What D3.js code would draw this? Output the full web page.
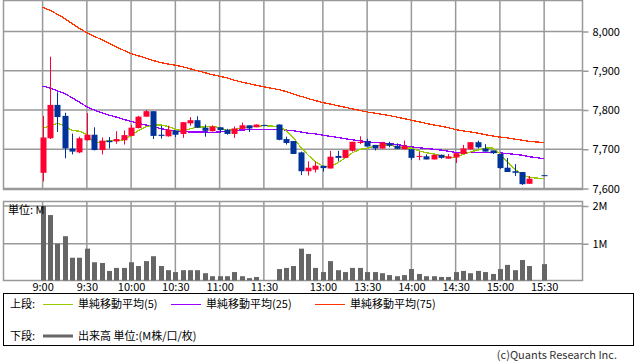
<!DOCTYPE html>
<html>
<head>
<meta charset="utf-8">
<script src="https://cdn.jsdelivr.net/npm/d3@7"></script>
<style>
  body { margin: 0; background: #fff; }
  svg { display: block; }
  text { font-family: "Noto Sans CJK JP", "Liberation Sans", sans-serif; font-size: 11px; }
</style>
</head>
<body>
<svg id="chart" width="638" height="362"></svg>
<script>
// 5-minute bars, one slot per entry ("" = lunch gap slot)
const times = [
  "9:00","9:05","9:10","9:15","9:20","9:25","9:30","9:35","9:40","9:45","9:50","9:55",
  "10:00","10:05","10:10","10:15","10:20","10:25","10:30","10:35","10:40","10:45","10:50","10:55",
  "11:00","11:05","11:10","11:15","11:20","11:25","11:30","",
  "12:30","12:35","12:40","12:45","12:50","12:55",
  "13:00","13:05","13:10","13:15","13:20","13:25","13:30","13:35","13:40","13:45","13:50","13:55",
  "14:00","14:05","14:10","14:15","14:20","14:25","14:30","14:35","14:40","14:45","14:50","14:55",
  "15:00","15:05","15:10","15:15","15:20","15:25","15:30"
];

const open = [7640,7728,7813,7785,7702,7692,7723,7737,7698,7722, 7720,7723,7734,7754,7783,7797,7737,7733,7748,7739,
  7766,7774,7755,7746,7756,7750,7739,7752,7761,7756, 7762,null,7763,7726,7721,7692,7644,7648,7658,7651,
  7683,7678,7696,7716,7720,7711,7702,7715,7709,7700, 7700,7681,7682,7674,7686,7676,7679,7688,7700,7718,
  7702,7697,7688,7653,7644,7642,7612,null,7634];
const high = [7785,7936,7845,7793,7740,7732,7792,7756,7730,7731, 7746,7748,7762,7785,7800,7797,7760,7760,7748,7769,
  7782,7784,7763,7760,7756,7752,7758,7768,7761,7763, 7762,null,7763,7732,7721,7694,7669,7669,7658,7696,
  7696,7698,7719,7733,7727,7711,7719,7719,7715,7722, 7700,7694,7687,7686,7686,7688,7690,7711,7718,7722,
  7713,7697,7688,7678,7662,7642,7632,null,7634];
const low = [7618,7726,7744,7677,7687,7690,7722,7697,7687,7702, 7714,7712,7733,7753,7783,7726,7727,7732,7731,7729,
  7760,7754,7732,7745,7742,7737,7729,7751,7744,7756, 7759,null,7723,7712,7688,7634,7633,7641,7643,7651,
  7669,7677,7694,7713,7707,7697,7701,7705,7701,7700, 7673,7672,7674,7674,7676,7676,7665,7688,7699,7702,
  7694,7688,7650,7642,7632,7609,7612,null,7633];
const close = [7730,7813,7782,7702,7694,7728,7737,7698,7722,7718, 7726,7736,7755,7783,7797,7734,7734,7750,7737,7769,
  7774,7755,7747,7758,7749,7739,7753,7761,7753,7763, 7760,null,7724,7716,7688,7644,7653,7658,7652,7681,
  7678,7698,7719,7719,7707,7702,7717,7709,7701,7709, 7678,7683,7674,7686,7678,7682,7690,7702,7718,7705,
  7694,7690,7652,7642,7640,7611,7625,null,7633];

// volume in millions
const volume = [2.0,1.76,1.0,1.2,0.63,0.63,0.87,0.51,0.49,0.28, 0.36,0.36,0.51,0.41,0.54,0.67,0.41,0.30,0.25,0.30,
  0.30,0.30,0.22,0.14,0.14,0.14,0.25,0.14,0.09,0.12, 0.02,null,0.33,0.36,0.41,0.87,0.73,0.36,0.25,0.54,
  0.30,0.25,0.36,0.36,0.25,0.25,0.22,0.17,0.14,0.17, 0.33,0.20,0.14,0.14,0.12,0.12,0.25,0.28,0.22,0.28,
  0.25,0.20,0.33,0.44,0.30,0.57,0.41,null,0.46];

const ma5 = [7754,7759,7766,7760,7748,7746,7737,7714,7720,7721, 7722,7724,7735,7748,7757,7761,7762,7758,7751,7747,
  7752,7757,7757,7759,7755,7748,7750,7754,7757,7758, 7760,null,7758,7748,7730,7705,7685,7668,7657,7656,
  7665,7678,7691,7700,7702,7709,7711,7711,7706,7704, 7703,7696,7691,7688,7684,7679,7680,7687,7693,7698,
  7703,7703,7689,7668,7649,7636,7628,null,7625];
const ma25 = [7861,7856,7849,7842,7831,7820,7808,7800,7793,7787, 7782,7776,7771,7766,7762,7757,7753,7749,7746,7745,
  7744,7744,7744,7743,7744,7746,7748,7749,7750,7750, 7750,null,7751,7749,7747,7744,7741,7739,7736,7733,
  7730,7727,7724,7722,7719,7717,7716,7715,7712,7709, 7706,7704,7702,7700,7698,7695,7692,7691,7691,7691,
  7691,7691,7691,7689,7687,7685,7681,null,7676];
const ma75 = [8062,8054,8044,8033,8020,8008,7997,7988,7979,7970, 7961,7952,7944,7938,7932,7926,7921,7917,7914,7910,
  7905,7900,7895,7890,7886,7882,7876,7871,7867,7863, 7859,null,7852,7847,7841,7835,7829,7824,7819,7815,
  7811,7807,7803,7799,7795,7792,7789,7786,7782,7778, 7774,7770,7766,7762,7759,7755,7750,7747,7744,7741,
  7737,7734,7731,7729,7726,7723,7720,null,7717];

const tickLabels = ["9:00","9:30","10:00","10:30","11:00","11:30","13:00","13:30","14:00","14:30","15:00","15:30"];
const priceTicks = [7600, 7700, 7800, 7900, 8000];
const volTicks = [1, 2];

const UP = "#ff0033", DOWN = "#003399", GRID = "#999";

const svg = d3.select("#chart");

const x = d3.scaleLinear().domain([-5.3, 73.2]).range([3.5, 582.5]);
const yP = d3.scaleLinear().domain([7600, 8000]).range([188.5, 31.5]);
const yV = d3.scaleLinear().domain([0, 2]).range([281.5, 206]);

const tickIdx = tickLabels.map(t => times.indexOf(t));
const idx = d3.range(times.length);

// clip paths
svg.append("clipPath").attr("id", "clipP").append("rect")
  .attr("x", 3.5).attr("y", 0.5).attr("width", 579).attr("height", 189);
svg.append("clipPath").attr("id", "clipV").append("rect")
  .attr("x", 3.5).attr("y", 201.5).attr("width", 579).attr("height", 79);

// grid
const grid = svg.append("g").attr("stroke", GRID).attr("stroke-width", 1.5);
grid.selectAll(".hp").data(priceTicks).join("line")
  .attr("x1", 3.5).attr("x2", 582.5).attr("y1", d => yP(d)).attr("y2", d => yP(d));
grid.selectAll(".hv").data(volTicks).join("line")
  .attr("x1", 3.5).attr("x2", 582.5).attr("y1", d => yV(d)).attr("y2", d => yV(d));
grid.selectAll(".vp").data(tickIdx).join("line")
  .attr("x1", d => x(d)).attr("x2", d => x(d)).attr("y1", 0.5).attr("y2", 189.5);
grid.selectAll(".vv").data(tickIdx).join("line")
  .attr("x1", d => x(d)).attr("x2", d => x(d)).attr("y1", 201.5).attr("y2", 280.5);

// panel borders
svg.append("rect").attr("x", 3.5).attr("y", 0.5).attr("width", 579).attr("height", 189)
  .attr("fill", "none").attr("stroke", GRID).attr("stroke-width", 1.5);
svg.append("rect").attr("x", 3.5).attr("y", 201.5).attr("width", 579).attr("height", 79)
  .attr("fill", "none").attr("stroke", GRID).attr("stroke-width", 1.5);

// moving averages
const plot = svg.append("g").attr("clip-path", "url(#clipP)");
function maLine(arr, color) {
  const pts = idx.filter(i => arr[i] != null);
  plot.append("path")
    .datum(pts)
    .attr("fill", "none")
    .attr("stroke", color)
    .attr("stroke-width", 1.3)
    .attr("shape-rendering", "crispEdges")
    .attr("d", d3.line().x(i => x(i)).y(i => yP(arr[i])));
}
maLine(ma75, "#ff3300");
maLine(ma25, "#9900ff");
maLine(ma5, "#99cc00");

// candles
const bars = idx.filter(i => open[i] != null);
const cw = 6;
const c = plot.selectAll(".candle").data(bars).join("g")
  .attr("fill", i => close[i] > open[i] ? UP : DOWN)
  .attr("stroke", i => close[i] > open[i] ? UP : DOWN);
c.append("line")
  .attr("x1", i => Math.round(x(i)) + 0.5).attr("x2", i => Math.round(x(i)) + 0.5)
  .attr("y1", i => yP(high[i])).attr("y2", i => yP(low[i]))
  .attr("stroke-width", 1);
c.append("rect")
  .attr("x", i => Math.round(x(i)) + 0.5 - cw / 2)
  .attr("width", cw)
  .attr("y", i => yP(Math.max(open[i], close[i])))
  .attr("height", i => Math.max(1, Math.abs(yP(open[i]) - yP(close[i]))))
  .attr("stroke", "none");

// volume
svg.append("g").attr("clip-path", "url(#clipV)")
  .selectAll("rect").data(idx.filter(i => volume[i] != null)).join("rect")
  .attr("x", i => Math.round(x(i)) + 0.5 - 2.5)
  .attr("width", 5)
  .attr("y", i => yV(volume[i]))
  .attr("height", i => yV(0) - yV(volume[i]))
  .attr("fill", "#666");

svg.append("text").attr("x", 8).attr("y", 214).text("単位: M");

// axes
function styleAxis(g) {
  g.attr("font-family", null).attr("font-size", null);
  g.select(".domain").remove();
  g.selectAll("line").attr("stroke", GRID).attr("stroke-width", 1.5);
  g.selectAll("text").attr("fill", "#000");
}
svg.append("g").attr("transform", "translate(582.5,0)")
  .call(d3.axisRight(yP).tickValues(priceTicks).tickFormat(d3.format(",")).tickSize(6).tickPadding(4))
  .call(styleAxis);
svg.append("g").attr("transform", "translate(582.5,0)")
  .call(d3.axisRight(yV).tickValues(volTicks).tickFormat(d => d + "M").tickSize(6).tickPadding(4))
  .call(styleAxis);
svg.append("g").attr("transform", "translate(0,280.5)")
  .call(d3.axisBottom(x).tickValues(tickIdx).tickFormat(i => times[i]).tickSize(0).tickPadding(3))
  .call(styleAxis);

// legend
const lg = svg.append("g");
lg.append("rect").attr("x", 3.5).attr("y", 293.5).attr("width", 630).attr("height", 52)
  .attr("fill", "none").attr("stroke", "#000");
lg.append("text").attr("x", 10).attr("y", 308).text("上段:");
const maItems = [
  { x: 43, color: "#99cc00", label: "単純移動平均(5)" },
  { x: 171, color: "#9900ff", label: "単純移動平均(25)" },
  { x: 315, color: "#ff3300", label: "単純移動平均(75)" }
];
maItems.forEach(d => {
  lg.append("line").attr("x1", d.x).attr("x2", d.x + 30).attr("y1", 304.5).attr("y2", 304.5)
    .attr("stroke", d.color).attr("stroke-width", 1);
  lg.append("text").attr("x", d.x + 35).attr("y", 308).text(d.label);
});
lg.append("text").attr("x", 10).attr("y", 340).text("下段:");
lg.append("line").attr("x1", 43).attr("x2", 73).attr("y1", 336).attr("y2", 336)
  .attr("stroke", "#666").attr("stroke-width", 3);
lg.append("text").attr("x", 78).attr("y", 340).text("出来高 単位:(M株/口/枚)");

svg.append("text").attr("x", 617).attr("y", 359).attr("text-anchor", "end")
  .attr("fill", "#333").text("(c)Quants Research Inc.");
</script>
</body>
</html>
